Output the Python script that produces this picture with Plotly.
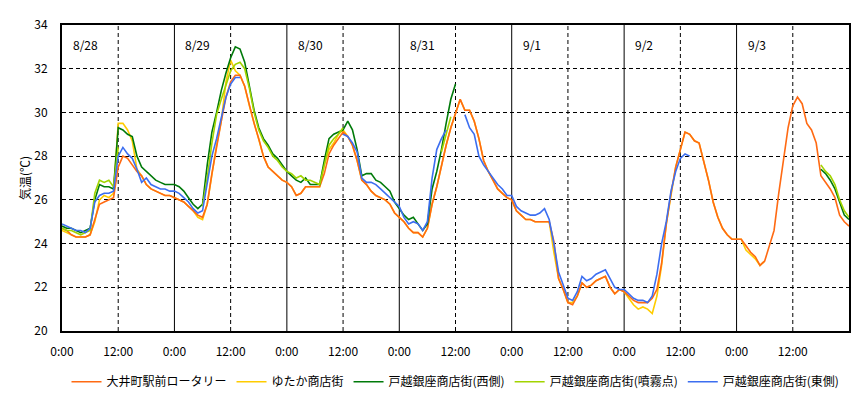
import plotly.graph_objects as go

# hours since 8/28 0:00
hours = list(range(169))

tick_hours = [0, 12, 24, 36, 48, 60, 72, 84, 96, 108, 120, 132, 144, 156]
tick_labels = ["0:00", "12:00", "0:00", "12:00", "0:00", "12:00", "0:00", "12:00",
               "0:00", "12:00", "0:00", "12:00", "0:00", "12:00"]
day_starts = [0, 24, 48, 72, 96, 120, 144]
day_labels = ["8/28", "8/29", "8/30", "8/31", "9/1", "9/2", "9/3"]
y_ticks = [20, 22, 24, 26, 28, 30, 32, 34]

N = None

# 大井町駅前ロータリー
oimachi = (
    [24.7, 24.6, 24.4, 24.3, 24.3, 24.3, 24.4, 25.1, 25.8, 25.9, 26.0, 26.1,
     27.5, 28.0, 27.9, 27.6, 27.3, 27.1, 26.7, 26.5, 26.4, 26.3, 26.2, 26.2]
    + [26.1, 26.0, 25.9, 25.7, 25.5, 25.3, 25.2, 25.8, 27.2, 28.5, 29.6, 30.7,
       31.4, 31.7, 31.7, 31.2, 30.3, 29.5, 28.8, 28.0, 27.5, 27.3, 27.1, 26.9]
    + [26.8, 26.6, 26.2, 26.3, 26.6, 26.6, 26.6, 26.6, 27.2, 28.1, 28.5, 28.8,
       29.1, 28.9, 28.5, 27.8, 26.9, 26.7, 26.4, 26.2, 26.1, 26.0, 25.8, 25.4]
    + [25.2, 25.0, 24.7, 24.5, 24.5, 24.3, 24.7, 25.8, 26.6, 27.6, 28.5, 29.3,
       30.0, 30.6, 30.1, 30.1, 29.6, 28.8, 27.8, 27.3, 26.9, 26.5, 26.3, 26.1]
    + [26.0, 25.5, 25.3, 25.1, 25.1, 25.0, 25.0, 25.0, 25.0, 24.1, 22.4, 21.9,
       21.3, 21.2, 21.6, 22.2, 22.0, 22.1, 22.3, 22.4, 22.5, 22.0, 21.7, 21.9]
    + [21.8, 21.6, 21.4, 21.3, 21.3, 21.3, 21.5, 21.9, 23.1, 24.9, 26.3, 27.5,
       28.3, 29.1, 29.0, 28.7, 28.6, 27.8, 26.9, 25.9, 25.2, 24.7, 24.4, 24.2]
    + [24.2, 24.2, 23.9, 23.6, 23.4, 23.0, 23.2, 23.9, 24.6, 26.3, 27.9, 29.3,
       30.3, 30.7, 30.4, 29.5, 29.2, 28.6, 27.1, 26.8, 26.5, 26.1, 25.3, 25.0, 24.8]
)

# ゆたか商店街
yutaka = (
    [24.6, 24.5, 24.4, 24.3, 24.3, 24.3, 24.4, 25.0, 26.0, 26.2, 26.1, 26.3,
     29.5, 29.5, 29.2, 28.7, 27.4, 27.1, 26.7, 26.5, 26.4, 26.3, 26.2, 26.2]
    + [26.1, 26.0, 25.9, 25.7, 25.5, 25.2, 25.1, 25.8, 27.2, 28.5, 29.6, 31.4,
       32.4, 31.9, 31.7, 31.2, 30.3, 29.5, 28.8, 28.0, 27.5, 27.3, 27.1, 26.9]
    + [26.8, 26.6, 26.2, 26.3, 26.6, 26.6, 26.6, 26.6, 27.6, 28.3, 28.6, 29.0,
       29.2, 28.9, 28.5, 27.8, 26.9, 26.7, 26.4, 26.2, 26.1, 26.0, 25.8, 25.4]
    + [25.2, 25.0, 24.7, 24.5, 24.5, 24.3, 24.7, 25.8, 26.6, 27.6, 28.5, 29.3,
       30.0, 30.6, 30.1, 30.1, 29.6, 28.8, 27.8, 27.3, 26.9, 26.5, 26.3, 26.1]
    + [26.0, 25.5, 25.3, 25.1, 25.1, 25.0, 25.0, 25.0, 25.0, 23.6, 22.4, 21.9,
       21.3, 21.3, 21.6, 22.2, 22.0, 22.1, 22.3, 22.4, 22.5, 22.0, 21.7, 21.9]
    + [21.8, 21.5, 21.2, 21.0, 21.1, 21.0, 20.8, 21.6, 23.0, 24.9, 26.3, 27.5,
       28.3, 29.1, 29.0, 28.7, 28.6, 27.8, 26.9, 25.9, 25.2, 24.7, 24.4, 24.2]
    + [24.2, 24.2, 23.7, 23.5, 23.3, 23.0, 23.2, N, N, N, N, N,
       N, N, N, N, N, N, N, N, N, N, N, N, N]
)

# 戸越銀座商店街(西側)
nishi = (
    [24.8, 24.7, 24.7, 24.6, 24.5, 24.6, 24.7, 26.0, 26.7, 26.6, 26.6, 26.5,
     29.3, 29.2, 29.0, 28.9, 28.0, 27.5, 27.3, 27.1, 26.9, 26.8, 26.7, 26.7]
    + [26.7, 26.6, 26.4, 26.1, 25.8, 25.6, 25.8, 27.6, 29.1, 30.0, 31.0, 31.8,
       32.5, 33.0, 32.9, 32.3, 31.2, 30.1, 29.3, 28.8, 28.5, 28.1, 27.9, 27.6]
    + [27.3, 27.1, 26.9, 26.8, 27.0, 26.7, 26.7, 26.7, 27.8, 28.8, 29.0, 29.1,
       29.2, 29.6, 29.2, 28.3, 27.1, 27.2, 27.2, 26.9, 26.8, 26.6, 26.4, 25.9]
    + [25.6, 25.3, 25.1, 25.2, 24.9, 24.6, 24.9, 26.5, 27.3, 28.3, 29.5, 30.6,
       31.3, N, N, N, N, N, N, N, N, N, N, N]
    + [N] * 24
    + [N] * 24
    + [N] * 18 + [27.4, 27.2, 26.9, 26.5, 25.9, 25.3, 25.1]
)

# 戸越銀座商店街(噴霧点)
funmu = (
    [24.7, 24.6, 24.6, 24.5, 24.4, 24.5, 24.6, 26.3, 26.9, 26.8, 26.9, 26.6,
     28.4, N, N, N, N, N, N, N, N, N, N, N]
    + [N, N, N, N, N, N, 25.7, 27.0, 28.6, 29.9, 30.6, 31.2,
       31.9, 32.2, 32.3, 32.0, 31.1, 30.0, 29.2, 28.7, 28.4, 28.0, 27.8, 27.5]
    + [27.3, 27.2, 27.0, 27.1, 26.9, 26.9, 26.8, 26.7, 27.6, 28.5, 28.8, 29.0,
       29.3, N, N, N, N, N, N, N, N, N, N, N]
    + [N, N, N, N, N, N, N, N, N, 28.2, 29.0, 29.8,
       N, N, N, N, N, N, N, N, N, N, N, N]
    + [N] * 24
    + [N] * 24
    + [N] * 18 + [27.6, 27.3, 27.1, 26.7, 26.0, 25.5, 25.2]
)

# 戸越銀座商店街(東側)
higashi = (
    [24.9, 24.8, 24.7, 24.6, 24.6, 24.5, 24.7, 25.9, 26.2, 26.3, 26.3, 26.4,
     28.0, 28.4, 28.1, 27.9, 27.4, 26.8, 27.0, 26.7, 26.6, 26.5, 26.5, 26.4]
    + [26.4, 26.3, 26.1, 25.9, 25.6, 25.4, 25.5, 26.8, 28.0, 28.8, 29.7, 30.7,
       31.3, 31.6, 31.6, N, N, N, N, N, N, N, N, N]
    + [N, N, N, N, N, N, N, N, N, N, N, N,
       29.0, 28.9, 28.6, 28.2, 27.0, 26.8, 26.8, 26.7, 26.5, 26.3, 26.1, 25.9]
    + [25.7, 25.2, 24.9, 25.0, 24.9, 24.6, 25.0, 27.0, 28.3, 28.8, 29.2, N,
       N, N, 29.9, 29.3, 29.0, 28.0, 27.6, 27.3, 27.0, 26.7, 26.5, 26.2]
    + [26.2, 25.7, 25.5, 25.4, 25.3, 25.3, 25.4, 25.6, 25.1, 24.0, 22.7, 22.1,
       21.5, 21.4, 21.8, 22.5, 22.3, 22.4, 22.6, 22.7, 22.8, 22.4, 22.0, 21.9]
    + [21.9, 21.7, 21.5, 21.4, 21.4, 21.3, 21.6, 22.6, 24.0, 25.0, 26.4, 27.3,
       27.9, 28.1, 28.0, N, N, N, N, N, N, N, N, N]
    + [N] * 25
)

series = [
    # (name, values, color, legend rank) in drawing order
    ("ゆたか商店街", yutaka, "#FFCC00", 2),
    ("大井町駅前ロータリー", oimachi, "#FF6A13", 1),
    ("戸越銀座商店街(西側)", nishi, "#007A0A", 3),
    ("戸越銀座商店街(噴霧点)", funmu, "#A2D400", 4),
    ("戸越銀座商店街(東側)", higashi, "#3C6EF0", 5),
]

FONT = "Noto Sans CJK JP, sans-serif"
fig = go.Figure()
for name, vals, color, rank in series:
    fig.add_trace(go.Scatter(
        x=hours, y=vals, name=name, mode="lines",
        line=dict(color=color, width=1.6),
        legendrank=rank, connectgaps=False,
    ))

shapes = []
for h in tick_hours:
    if h == 0:
        continue
    solid = (h % 24 == 0)
    shapes.append(dict(
        type="line", xref="x", yref="paper", x0=h, x1=h, y0=0, y1=1,
        layer="below",
        line=dict(color="black", width=1, dash="solid" if solid else "4px,3px"),
    ))

annotations = []
for d, lab in zip(day_starts, day_labels):
    annotations.append(dict(
        x=d, xref="x", y=1, yref="paper", text=lab, showarrow=False,
        xanchor="left", yanchor="top", xshift=9, yshift=-9,
        font=dict(family=FONT, size=12, color="black"),
    ))

fig.update_layout(
    width=865, height=397,
    margin=dict(l=62, r=16, t=25, b=66, autoexpand=False),
    paper_bgcolor="white", plot_bgcolor="white",
    font=dict(family=FONT, size=12, color="black"),
    shapes=shapes, annotations=annotations,
    showlegend=True,
    legend=dict(orientation="h", x=0.5, xanchor="center", y=-0.166,
                yanchor="middle", font=dict(family=FONT, size=12),
                itemwidth=30, tracegroupgap=0),
)
fig.update_xaxes(
    range=[0, 168], tickmode="array", tickvals=tick_hours, ticktext=tick_labels,
    showgrid=False, zeroline=False, showline=True, linecolor="black",
    linewidth=2, mirror=True, ticks="", ticklabelstandoff=9,
    tickfont=dict(family=FONT, size=12),
)
fig.update_yaxes(
    range=[20, 34], tickmode="array", tickvals=y_ticks,
    showgrid=True, gridcolor="black", gridwidth=1, griddash="4px,3px",
    zeroline=False, showline=True, linecolor="black", linewidth=2, mirror=True,
    ticks="", ticklabelstandoff=10,
    tickfont=dict(family=FONT, size=12),
    title=dict(text="気温(℃)", font=dict(family=FONT, size=12), standoff=1),
)

fig.write_html("out.html", config={"displayModeBar": False},
               post_script="document.body.style.margin='0';")
